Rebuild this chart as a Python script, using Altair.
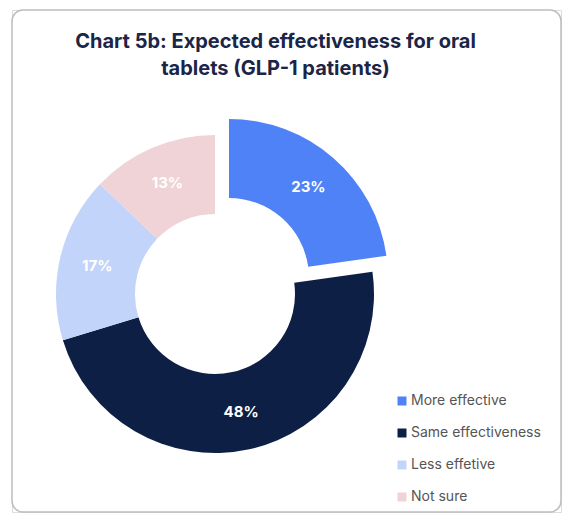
import altair as alt
import pandas as pd

categories = ["More effective", "Same effectiveness", "Less effetive", "Not sure"]
values = [23, 48, 17, 13]
labels = ["23%", "48%", "17%", "13%"]
order = [1, 2, 3, 4]
colors = ["#5082f7", "#0e1f45", "#c3d4fb", "#f0d3d7"]

df = pd.DataFrame({"cat": categories, "value": values, "label": labels, "order": order})

CX, CY = 203, 284  # view coords
R_OUT, R_IN = 159, 80
EX, EY = 14, -16

color = alt.Color(
    "cat:N",
    scale=alt.Scale(domain=categories, range=colors),
    sort=categories,
    legend=alt.Legend(
        title=None, orient="none", legendX=383, legendY=384, padding=0,
        symbolType="square", symbolSize=81, symbolStrokeWidth=0,
        labelFont="Inter", labelFontSize=14, labelColor="#555555",
        labelOffset=2, rowPadding=18,
    ),
)
theta = alt.Theta("value:Q", stack=True)
ordr = alt.Order("order:Q")
is_first = alt.datum.cat == categories[0]

base = alt.Chart(df)

card = alt.Chart(pd.DataFrame({"k": [0]})).mark_rect(
    cornerRadius=11, fill="white", stroke="#bdbdbd", strokeWidth=1.5
).encode(x=alt.value(0), x2=alt.value(549), y=alt.value(0), y2=alt.value(502))

arcs_rest = base.mark_arc(outerRadius=R_OUT, innerRadius=R_IN).encode(
    theta=theta, order=ordr, color=color,
    x=alt.value(CX), y=alt.value(CY),
    opacity=alt.condition(is_first, alt.value(0), alt.value(1)),
)
arcs_first = base.mark_arc(outerRadius=R_OUT, innerRadius=R_IN, xOffset=EX, yOffset=EY).encode(
    theta=theta, order=ordr, color=color,
    x=alt.value(CX), y=alt.value(CY),
    opacity=alt.condition(is_first, alt.value(1), alt.value(0)),
)
txt_rest = base.mark_text(radius=121, font="Inter", fontWeight="bold", fontSize=15, color="white").encode(
    theta=theta, order=ordr, text="label:N",
    x=alt.value(CX), y=alt.value(CY),
    opacity=alt.condition(is_first, alt.value(0), alt.value(1)),
)
txt_first = base.mark_text(radius=121, font="Inter", fontWeight="bold", fontSize=15, color="white",
                           xOffset=EX, yOffset=EY).encode(
    theta=theta, order=ordr, text="label:N",
    x=alt.value(CX), y=alt.value(CY),
    opacity=alt.condition(is_first, alt.value(1), alt.value(0)),
)

chart = alt.layer(card, arcs_rest, arcs_first, txt_rest, txt_first).properties(
    width=549, height=502,
    autosize=alt.AutoSizeParams(type="none"),
    padding={"left": 12, "top": 10, "right": 3, "bottom": 1},
    title=alt.TitleParams(
        text=["Chart 5b: Expected effectiveness for oral", "tablets (GLP-1 patients)"],
        anchor="middle", font="Inter", fontSize=20, fontWeight="bold", color="#1b2547",
        lineHeight=27, baseline="alphabetic", offset=0, dx=-11, dy=86,
    ),
).configure_view(
    stroke=None
).configure(background="white")

chart.save("out.html", embed_options={"renderer": "svg", "actions": False})
